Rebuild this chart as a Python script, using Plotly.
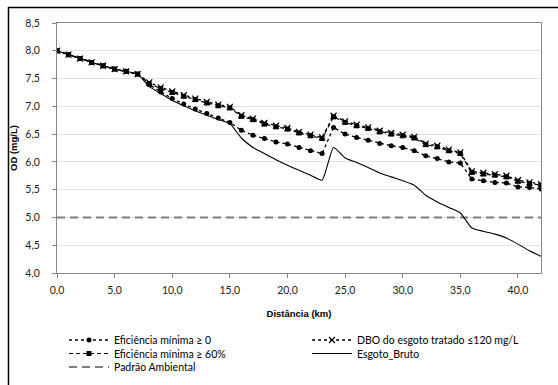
import plotly.graph_objects as go

# ---- data ----
dist_km = list(range(0, 43))

efic_0 = [8.00, 7.93, 7.86, 7.79, 7.73, 7.67, 7.63, 7.58, 7.39, 7.26,
          7.14, 7.04, 6.95, 6.87, 6.79, 6.71, 6.57, 6.48, 6.42, 6.36,
          6.32, 6.26, 6.20, 6.15, 6.62, 6.50, 6.44, 6.39, 6.33, 6.29,
          6.26, 6.20, 6.11, 6.06, 6.00, 5.98, 5.69, 5.66, 5.63, 5.62,
          5.55, 5.54, 5.51]

dbo_120 = [8.00, 7.93, 7.86, 7.79, 7.73, 7.67, 7.63, 7.58, 7.43, 7.34,
           7.27, 7.20, 7.14, 7.08, 7.03, 6.99, 6.84, 6.78, 6.70, 6.65,
           6.61, 6.54, 6.49, 6.44, 6.83, 6.73, 6.67, 6.62, 6.56, 6.52,
           6.49, 6.45, 6.33, 6.29, 6.22, 6.17, 5.83, 5.80, 5.78, 5.75,
           5.67, 5.63, 5.60]

efic_60 = [8.00, 7.93, 7.86, 7.79, 7.73, 7.67, 7.63, 7.58, 7.41, 7.32,
           7.25, 7.18, 7.12, 7.06, 7.01, 6.97, 6.82, 6.76, 6.68, 6.63,
           6.59, 6.52, 6.47, 6.42, 6.81, 6.71, 6.65, 6.60, 6.54, 6.50,
           6.47, 6.43, 6.31, 6.27, 6.20, 6.15, 5.81, 5.78, 5.76, 5.73,
           5.65, 5.61, 5.58]

esgoto_bruto = [8.00, 7.93, 7.86, 7.79, 7.73, 7.67, 7.63, 7.58, 7.36, 7.23,
                7.11, 7.01, 6.92, 6.84, 6.76, 6.69, 6.43, 6.26, 6.15, 6.04,
                5.94, 5.85, 5.76, 5.67, 6.26, 6.07, 5.99, 5.90, 5.80, 5.73,
                5.66, 5.58, 5.40, 5.28, 5.18, 5.08, 4.81, 4.75, 4.70, 4.63,
                4.52, 4.40, 4.30]

padrao_x = [0, 42]
padrao_y = [5.0, 5.0]

y_ticks = [4.0, 4.5, 5.0, 5.5, 6.0, 6.5, 7.0, 7.5, 8.0, 8.5]
x_ticks = [0, 5, 10, 15, 20, 25, 30, 35, 40]

names = ["Eficiência mínima ≥ 0", "DBO do esgoto tratado ≤120 mg/L",
         "Eficiência mínima ≥ 60%", "Esgoto_Bruto", "Padrão Ambiental"]

# ---- figure ----
W, H = 558, 385
L, R, T, B = 57, 17, 23, 112
pw, ph = W - L - R, H - T - B

def px_x(p):
    return (p - L) / pw

def px_y(p):
    return (H - B - p) / ph

fig = go.Figure()

fig.add_trace(go.Scatter(
    x=padrao_x, y=padrao_y, mode="lines", name=names[4], legend="legend5",
    line=dict(color="#7f7f7f", width=2, dash="8px,5px")))

fig.add_trace(go.Scatter(
    x=dist_km, y=esgoto_bruto, mode="lines", name=names[3], legend="legend4",
    line=dict(color="#000000", width=1.1, shape="spline", smoothing=0.5)))

fig.add_trace(go.Scatter(
    x=dist_km, y=efic_0, mode="lines+markers", name=names[0], legend="legend",
    line=dict(color="#000000", width=1.3, dash="dot"),
    marker=dict(symbol="circle", size=5, color="#000000")))

fig.add_trace(go.Scatter(
    x=dist_km, y=efic_60, mode="lines+markers", name=names[2], legend="legend3",
    line=dict(color="#000000", width=1.2, dash="4px,3px"),
    marker=dict(symbol="square", size=5, color="#000000")))

fig.add_trace(go.Scatter(
    x=dist_km, y=dbo_120, mode="lines+markers", name=names[1], legend="legend2",
    line=dict(color="#000000", width=1.3, dash="dot"),
    marker=dict(symbol="x-thin-open", size=6,
                line=dict(color="#3a3a3a", width=1.2))))

leg_font = dict(family="Lato, Open Sans, sans-serif", size=10.5, color="#000000")
def leg(xp, yp):
    return dict(x=px_x(xp), y=px_y(yp), xanchor="left", yanchor="middle",
                orientation="h", bgcolor="rgba(0,0,0,0)", borderwidth=0,
                font=leg_font, itemwidth=40, tracegroupgap=0)

fig.update_layout(
    width=W, height=H,
    margin=dict(l=L, r=R, t=T, b=B, autoexpand=False),
    paper_bgcolor="white", plot_bgcolor="white",
    separators=",.",
    showlegend=True,
    legend=leg(64, 340),
    legend2=leg(307, 340),
    legend3=leg(64, 353.5),
    legend4=leg(307, 353.5),
    legend5=leg(64, 367),
    font=dict(family="Lato, Open Sans, sans-serif", size=10.5, color="#222222"),
    xaxis=dict(
        range=[0, 42], tickvals=x_ticks, tickformat=".1f",
        showgrid=False, zeroline=False,
        showline=True, linecolor="#868686", linewidth=1, mirror=True,
        ticks="outside", ticklen=4, tickcolor="#868686",
        ticklabelstandoff=3,
        title=dict(text="<b>Distância (km)</b>", standoff=15,
                   font=dict(family="Liberation Sans, Arial", size=9.5, color="#000000")),
    ),
    yaxis=dict(
        range=[4, 8.5], tickvals=y_ticks, tickformat=".1f",
        showgrid=True, gridcolor="#e3e3e3", gridwidth=1, zeroline=False,
        showline=True, linecolor="#868686", linewidth=1, mirror=True,
        ticks="outside", ticklen=4, tickcolor="#868686",
        ticklabelstandoff=10,
        title=dict(text="<b>OD (mg/L)</b>", standoff=5,
                   font=dict(family="Liberation Sans, Arial", size=9.5, color="#000000")),
    ),
    shapes=[dict(type="rect", xref="paper", yref="paper",
                 x0=px_x(8.5), x1=px_x(562), y0=px_y(390), y1=px_y(7.5),
                 line=dict(color="#000000", width=1.5), fillcolor="rgba(0,0,0,0)",
                 layer="above")],
)

fig.write_html("out.html", config={"displayModeBar": False},
               post_script="document.body.style.margin='0';document.body.style.overflow='hidden';")
